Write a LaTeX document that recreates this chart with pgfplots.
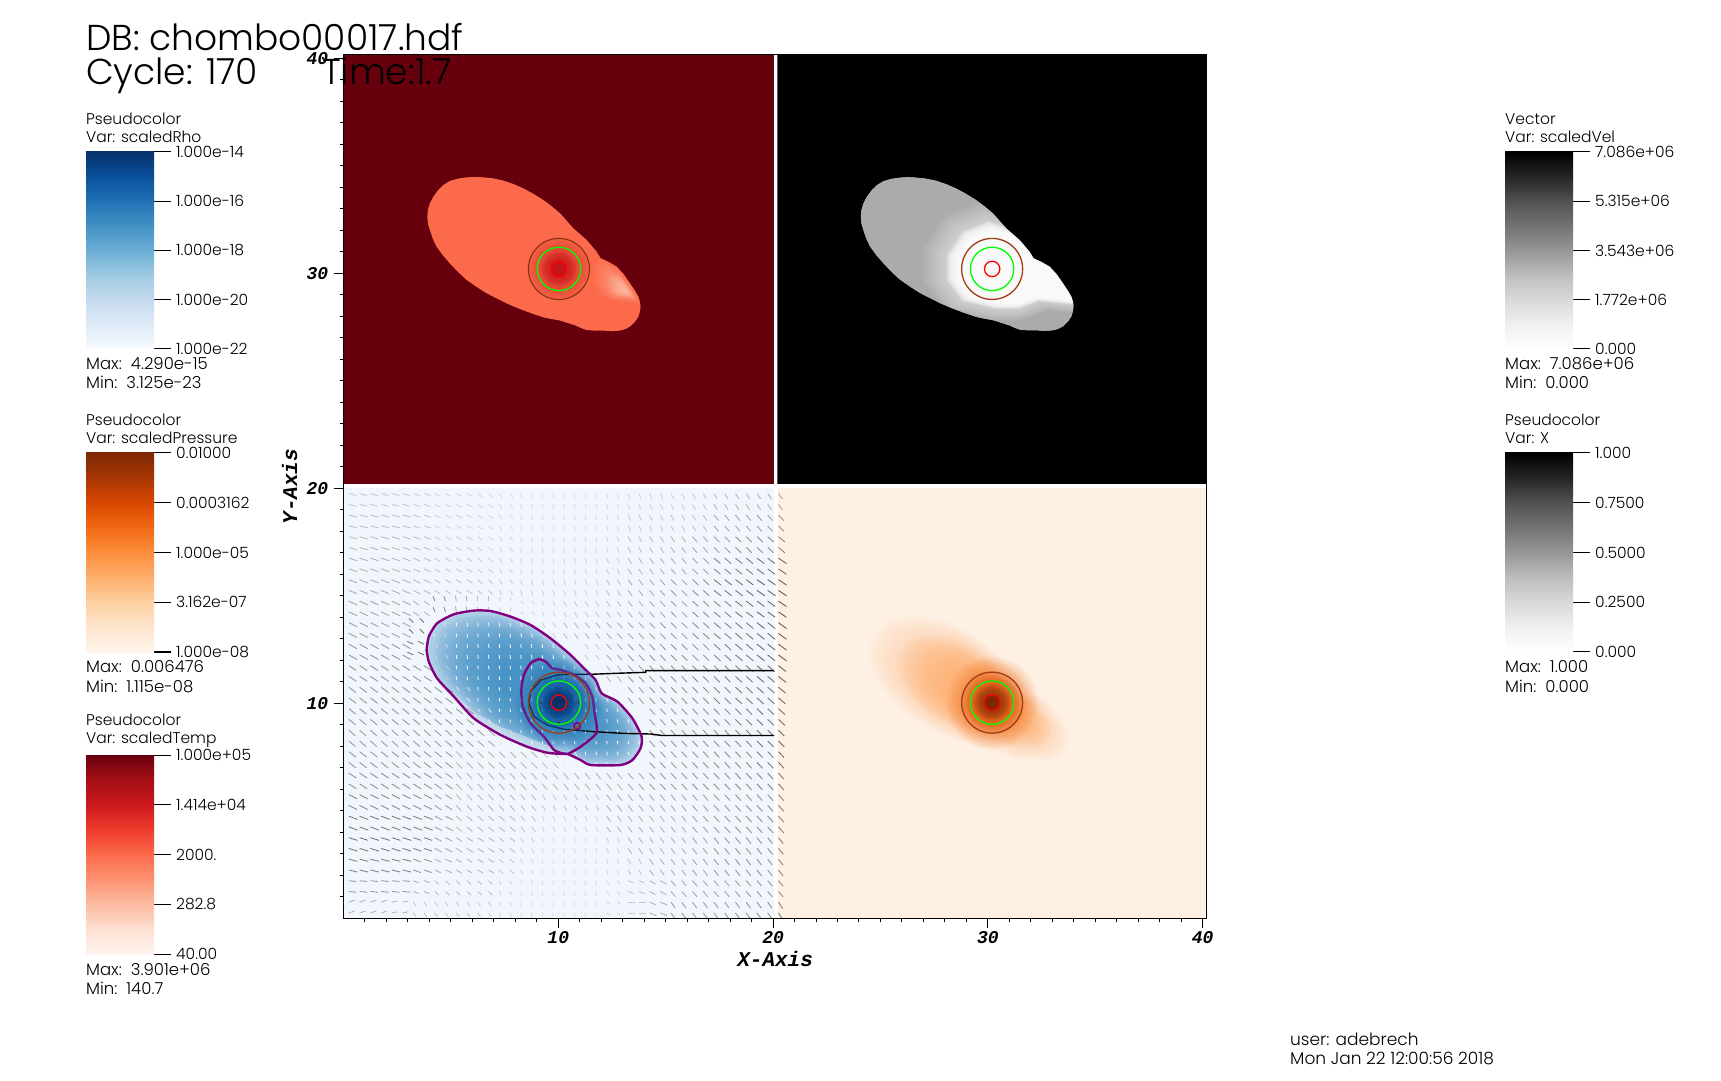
\documentclass[border=0pt]{standalone}
\usepackage{fontspec}
\usepackage{pgfplots}
\usepackage{pgfplotstable}
\pgfplotsset{compat=1.18}
\setmainfont{Poppins Light}
\newfontfamily\monobi{Liberation Mono}
\newcommand\tickf{\fontsize{18}{18}\selectfont\monobi\bfseries\itshape}
\newcommand\labf{\fontsize{21}{21}\selectfont\monobi\bfseries\itshape}
\newcommand\smf{\fontsize{16.5}{18}\selectfont}
\newcommand\hdf{\fontsize{15.5}{18}\selectfont}
\newcommand\ftf{\fontsize{17}{18}\selectfont}
\newcommand\bigf{\fontsize{36}{38}\selectfont}
\definecolor{b0}{HTML}{F7FBFF}\definecolor{b1}{HTML}{DEEBF7}\definecolor{b2}{HTML}{C6DBEF}\definecolor{b3}{HTML}{9ECAE1}\definecolor{b4}{HTML}{6BAED6}\definecolor{b5}{HTML}{4292C6}\definecolor{b6}{HTML}{2171B5}\definecolor{b7}{HTML}{08519C}\definecolor{b8}{HTML}{08306B}
\definecolor{o0}{HTML}{FFF5EB}\definecolor{o1}{HTML}{FEE6CE}\definecolor{o2}{HTML}{FDD0A2}\definecolor{o3}{HTML}{FDAE6B}\definecolor{o4}{HTML}{FD8D3C}\definecolor{o5}{HTML}{F16913}\definecolor{o6}{HTML}{D94801}\definecolor{o7}{HTML}{A63603}\definecolor{o8}{HTML}{7F2704}
\definecolor{r0}{HTML}{FFF5F0}\definecolor{r1}{HTML}{FEE0D2}\definecolor{r2}{HTML}{FCBBA1}\definecolor{r3}{HTML}{FC9272}\definecolor{r4}{HTML}{FB6A4A}\definecolor{r5}{HTML}{EF3B2C}\definecolor{r6}{HTML}{CB181D}\definecolor{r7}{HTML}{A50F15}\definecolor{r8}{HTML}{67000D}
\definecolor{g0}{HTML}{FFFFFF}\definecolor{g1}{HTML}{F0F0F0}\definecolor{g2}{HTML}{D9D9D9}\definecolor{g3}{HTML}{BDBDBD}\definecolor{g4}{HTML}{969696}\definecolor{g5}{HTML}{737373}\definecolor{g6}{HTML}{525252}\definecolor{g7}{HTML}{252525}\definecolor{g8}{HTML}{000000}
\definecolor{purp}{HTML}{800080}\definecolor{brn}{HTML}{A03C14}
\definecolor{bgb}{HTML}{F1F6FC}\definecolor{bgo}{HTML}{FEF0E3}

% body outline, offsets from the density centre
\pgfplotstableread{
x y
-6.13 2.43
-6.10 2.74
-6.01 3.05
-5.84 3.37
-5.62 3.67
-5.37 3.91
-5.08 4.09
-4.71 4.20
-4.30 4.26
-3.91 4.28
-3.52 4.26
-3.05 4.21
-2.59 4.11
-2.12 3.95
-1.66 3.75
-1.20 3.50
-0.73 3.21
-0.33 2.91
0.05 2.59
0.36 2.24
0.67 1.89
0.98 1.62
1.29 1.35
1.52 1.08
1.75 0.81
1.94 0.50
2.31 0.33
2.69 0.11
3.02 -0.25
3.31 -0.67
3.52 -0.98
3.70 -1.29
3.77 -1.52
3.80 -1.75
3.77 -1.99
3.70 -2.22
3.53 -2.47
3.31 -2.68
3.08 -2.80
2.84 -2.87
2.45 -2.89
2.07 -2.87
1.68 -2.87
1.29 -2.84
1.06 -2.76
0.82 -2.65
0.43 -2.52
0.05 -2.40
-0.34 -2.33
-0.73 -2.25
-1.12 -2.12
-1.51 -1.98
-1.98 -1.80
-2.44 -1.60
-2.90 -1.37
-3.37 -1.13
-3.84 -0.83
-4.30 -0.51
-4.71 -0.13
-5.08 0.26
-5.41 0.64
-5.70 1.04
-5.88 1.42
-6.01 1.81
-6.10 2.12
-6.13 2.43
}\outlineT
% same outline with the rest of the panel (exterior mask)
\pgfplotstableread{
x y
-10 2.43
-6.13 2.43
-6.10 2.74
-6.01 3.05
-5.84 3.37
-5.62 3.67
-5.37 3.91
-5.08 4.09
-4.71 4.20
-4.30 4.26
-3.91 4.28
-3.52 4.26
-3.05 4.21
-2.59 4.11
-2.12 3.95
-1.66 3.75
-1.20 3.50
-0.73 3.21
-0.33 2.91
0.05 2.59
0.36 2.24
0.67 1.89
0.98 1.62
1.29 1.35
1.52 1.08
1.75 0.81
1.94 0.50
2.31 0.33
2.69 0.11
3.02 -0.25
3.31 -0.67
3.52 -0.98
3.70 -1.29
3.77 -1.52
3.80 -1.75
3.77 -1.99
3.70 -2.22
3.53 -2.47
3.31 -2.68
3.08 -2.80
2.84 -2.87
2.45 -2.89
2.07 -2.87
1.68 -2.87
1.29 -2.84
1.06 -2.76
0.82 -2.65
0.43 -2.52
0.05 -2.40
-0.34 -2.33
-0.73 -2.25
-1.12 -2.12
-1.51 -1.98
-1.98 -1.80
-2.44 -1.60
-2.90 -1.37
-3.37 -1.13
-3.84 -0.83
-4.30 -0.51
-4.71 -0.13
-5.08 0.26
-5.41 0.64
-5.70 1.04
-5.88 1.42
-6.01 1.81
-6.10 2.12
-6.13 2.43
-10 2.43
-10 -10
10 -10
10 10
-10 10
-10 2.43
}\maskT
% purple contour, outer
\pgfplotstableread{
x y
-6.16 2.45
-6.06 3.07
-5.67 3.69
-4.89 4.11
-3.96 4.28
-3.18 4.26
-2.25 4.00
-1.32 3.61
-0.39 2.99
0.54 2.22
1.16 1.60
1.71 1.05
1.99 0.43
2.72 0.05
3.42 -0.73
3.85 -1.58
3.80 -2.12
3.42 -2.67
2.87 -2.90
1.48 -2.90
1.01 -2.67
0.42 -2.39
0.23 -2.39
-0.54 -2.33
-1.48 -2.05
-2.72 -1.50
-3.96 -0.73
-4.89 0.28
-5.67 1.13
-6.06 1.91
-6.16 2.45
}\purpT
% purple contour, inner
\pgfplotstableread{
x y
0.42 -2.39
1.01 -2.05
1.75 -1.40
1.66 -0.50
1.55 0.28
1.24 0.90
0.70 1.29
0.08 1.52
-0.31 1.60
-0.62 1.91
-0.93 2.02
-1.32 1.83
-1.63 1.29
-1.75 0.59
-1.68 -0.19
-1.32 -0.96
-0.70 -1.58
-0.23 -2.20
0.16 -2.36
}\purpIT
% black streamlines
\pgfplotstableread{
x y
10.02 1.49
4.04 1.49
4.04 1.41
2.56 1.36
1.55 1.32
0.54 1.32
-0.08 1.29
-0.85 1.05
-1.32 0.51
-1.40 -0.03
-1.16 -0.65
-0.54 -1.04
0.23 -1.24
1.63 -1.35
3.03 -1.43
4.27 -1.46
4.81 -1.53
10.02 -1.53
}\lineT
% pale lower edge of the blue body
\pgfplotstableread{
x y
-5.67 1.13
-4.89 0.28
-3.96 -0.73
-2.72 -1.50
-1.48 -2.05
-0.54 -2.33
0.23 -2.39
-0.5 -2.0
-1.5 -1.6
-2.8 -1.1
-4 -0.4
-5 0.5
}\paleT
% bright part of the lobe, temperature panel
\pgfplotstableread{
x y
1.94 0.50
2.69 0.11
3.31 -0.67
3.70 -1.29
3.80 -1.60
3.2 -1.55
2.4 -1.45
1.9 -1.2
1.6 -0.6
1.6 0.2
}\lobeT
% white part, velocity panel
\pgfplotstableread{
x y
1.94 0.50
2.69 0.11
3.31 -0.67
3.70 -1.29
3.80 -1.5
3.0 -1.4
2.0 -1.3
1.2 -1.6
0.3 -1.6
-1.0 -1.3
-1.6 -0.5
-1.6 0.5
-1.0 1.4
0 1.8
1 1.5
}\whiteT
% velocity glyphs
\pgfplotstableread{
x y u v m
.5 19.5 .28 -.07 .22
1.5 19.5 .28 -.07 .22
2.5 19.5 .28 -.07 .22
3.5 19.5 .26 -.08 .2
4.5 19.5 .2 -.1 .18
5.5 19.5 .2 -.1 .18
6.5 19.5 .16 -.12 .17
7.5 19.5 .1 -.15 .15
8.5 19.5 .04 -.17 .14
9.5 19.5 .03 -.17 .14
10.5 19.5 .03 -.17 .14
11.5 19.5 .04 -.17 .14
12.5 19.5 .05 -.17 .15
13.5 19.5 .08 -.2 .18
14.5 19.5 .1 -.2 .2
15.5 19.5 .1 -.2 .2
16.5 19.5 .11 -.2 .22
17.5 19.5 .12 -.2 .28
18.5 19.5 .13 -.2 .3
19.5 19.5 .14 -.2 .32
20.5 19.5 .15 -.2 .35
.5 18.5 .3 -.07 .25
1.5 18.5 .3 -.07 .25
2.5 18.5 .3 -.07 .25
3.5 18.5 .27 -.08 .22
4.5 18.5 .22 -.1 .18
5.5 18.5 .22 -.1 .18
6.5 18.5 .17 -.12 .17
7.5 18.5 .1 -.15 .15
8.5 18.5 .03 -.18 .14
9.5 18.5 .03 -.18 .14
10.5 18.5 .03 -.18 .14
11.5 18.5 .03 -.18 .14
12.5 18.5 .05 -.18 .16
13.5 18.5 .1 -.2 .22
14.5 18.5 .1 -.2 .22
15.5 18.5 .11 -.2 .24
16.5 18.5 .13 -.2 .26
17.5 18.5 .17 -.2 .35
18.5 18.5 .17 -.2 .36
19.5 18.5 .18 -.2 .38
20.5 18.5 .2 -.2 .42
.5 17.5 .3 -.09 .28
1.5 17.5 .3 -.09 .28
2.5 17.5 .3 -.09 .28
3.5 17.5 .27 -.1 .25
4.5 17.5 .22 -.12 .2
5.5 17.5 .22 -.12 .2
6.5 17.5 .17 -.14 .18
7.5 17.5 .1 -.16 .16
8.5 17.5 .03 -.2 .15
9.5 17.5 .03 -.2 .15
10.5 17.5 .03 -.2 .15
11.5 17.5 .03 -.2 .15
12.5 17.5 .06 -.2 .18
13.5 17.5 .11 -.2 .25
14.5 17.5 .12 -.2 .27
15.5 17.5 .14 -.2 .3
16.5 17.5 .17 -.2 .34
17.5 17.5 .2 -.2 .42
18.5 17.5 .21 -.2 .44
19.5 17.5 .22 -.2 .46
20.5 17.5 .24 -.2 .5
.5 16.5 .3 -.1 .3
1.5 16.5 .3 -.1 .3
2.5 16.5 .3 -.1 .3
3.5 16.5 .26 -.11 .27
4.5 16.5 .2 -.12 .22
5.5 16.5 .2 -.12 .22
6.5 16.5 .16 -.14 .2
7.5 16.5 .1 -.17 .18
8.5 16.5 .04 -.2 .17
9.5 16.5 .04 -.2 .17
10.5 16.5 .04 -.2 .17
11.5 16.5 .05 -.2 .17
12.5 16.5 .08 -.2 .2
13.5 16.5 .13 -.2 .28
14.5 16.5 .15 -.2 .3
15.5 16.5 .17 -.2 .34
16.5 16.5 .2 -.2 .4
17.5 16.5 .24 -.2 .5
18.5 16.5 .25 -.2 .52
19.5 16.5 .27 -.2 .56
20.5 16.5 .3 -.2 .6
.5 15.5 .3 -.12 .32
1.5 15.5 .3 -.12 .32
2.5 15.5 .3 -.12 .32
3.5 15.5 .26 -.13 .29
4.5 15.5 .2 -.13 .24
5.5 15.5 .2 -.13 .24
6.5 15.5 .16 -.15 .22
7.5 15.5 .1 -.17 .2
8.5 15.5 .06 -.2 .2
9.5 15.5 .06 -.2 .2
10.5 15.5 .07 -.2 .2
11.5 15.5 .08 -.2 .21
12.5 15.5 .11 -.2 .25
13.5 15.5 .15 -.2 .32
14.5 15.5 .17 -.2 .35
15.5 15.5 .2 -.2 .4
16.5 15.5 .22 -.2 .45
17.5 15.5 .26 -.2 .55
18.5 15.5 .27 -.2 .58
19.5 15.5 .29 -.2 .62
20.5 15.5 .3 -.2 .65
.5 14.5 .3 -.14 .35
1.5 14.5 .3 -.14 .35
2.5 14.5 .3 -.14 .35
3.5 14.5 .2 -.14 .3
4.5 14.5 -.06 .18 .45
5.5 14.5 -.03 .2 .35
6.5 14.5 0 .2 .25
7.5 14.5 .05 .15 .18
8.5 14.5 .12 -.1 .15
9.5 14.5 .08 -.17 .17
10.5 14.5 .1 -.2 .2
11.5 14.5 .12 -.2 .22
12.5 14.5 .14 -.2 .25
13.5 14.5 .16 -.2 .3
14.5 14.5 .18 -.2 .35
15.5 14.5 .2 -.2 .4
16.5 14.5 .22 -.2 .45
17.5 14.5 .24 -.2 .5
18.5 14.5 .26 -.2 .55
19.5 14.5 .28 -.2 .6
20.5 14.5 .3 -.2 .65
.5 13.5 .3 -.15 .38
1.5 13.5 .3 -.15 .38
2.5 13.5 .3 -.15 .38
3.5 13.5 -.16 .16 .55
4.5 13.5 -.03 -.15 .12
5.5 13.5 .02 -.15 .05
6.5 13.5 .02 -.15 .05
7.5 13.5 .02 -.15 .05
8.5 13.5 .04 -.15 .06
9.5 13.5 .1 -.18 .2
10.5 13.5 .14 -.2 .28
11.5 13.5 .16 -.2 .3
12.5 13.5 .18 -.2 .32
13.5 13.5 .19 -.2 .35
14.5 13.5 .2 -.21 .38
15.5 13.5 .21 -.21 .42
16.5 13.5 .23 -.21 .46
17.5 13.5 .25 -.21 .5
18.5 13.5 .26 -.22 .54
19.5 13.5 .28 -.22 .6
20.5 13.5 .3 -.22 .65
.5 12.5 .3 -.17 .42
1.5 12.5 .3 -.17 .42
2.5 12.5 .3 -.17 .42
3.5 12.5 -.22 .1 .55
4.5 12.5 .1 -.14 .15
5.5 12.5 .02 -.15 .04
6.5 12.5 .02 -.15 .04
7.5 12.5 .02 -.15 .04
8.5 12.5 .02 -.15 .04
9.5 12.5 .02 -.15 .04
10.5 12.5 .02 -.15 .04
11.5 12.5 .12 -.18 .22
12.5 12.5 .18 -.2 .35
13.5 12.5 .2 -.22 .4
14.5 12.5 .2 -.22 .42
15.5 12.5 .21 -.22 .44
16.5 12.5 .22 -.22 .46
17.5 12.5 .24 -.22 .5
18.5 12.5 .26 -.22 .54
19.5 12.5 .28 -.22 .6
20.5 12.5 .3 -.22 .65
.5 11.5 .28 -.18 .42
1.5 11.5 .28 -.18 .42
2.5 11.5 .28 -.18 .42
3.5 11.5 .28 -.18 .42
4.5 11.5 .15 -.15 .2
5.5 11.5 .02 -.14 .03
6.5 11.5 .02 -.14 .03
7.5 11.5 .02 -.14 .03
8.5 11.5 .02 -.14 .03
9.5 11.5 .02 -.14 .03
10.5 11.5 .02 -.14 .03
11.5 11.5 .02 -.14 .03
12.5 11.5 .14 -.2 .3
13.5 11.5 .2 -.22 .4
14.5 11.5 .2 -.22 .42
15.5 11.5 .2 -.22 .44
16.5 11.5 .21 -.22 .46
17.5 11.5 .22 -.22 .48
18.5 11.5 .24 -.22 .52
19.5 11.5 .26 -.22 .58
20.5 11.5 .28 -.22 .62
.5 10.5 .27 -.2 .42
1.5 10.5 .27 -.2 .42
2.5 10.5 .27 -.2 .42
3.5 10.5 .27 -.2 .42
4.5 10.5 .27 -.2 .42
5.5 10.5 .12 -.14 .12
6.5 10.5 .02 -.13 .03
7.5 10.5 .02 -.13 .03
8.5 10.5 .02 -.13 .03
9.5 10.5 .02 -.13 .03
10.5 10.5 .02 -.13 .03
11.5 10.5 .02 -.13 .03
12.5 10.5 .06 -.17 .08
13.5 10.5 .18 -.22 .38
14.5 10.5 .2 -.22 .42
15.5 10.5 .2 -.22 .44
16.5 10.5 .21 -.22 .46
17.5 10.5 .22 -.22 .48
18.5 10.5 .24 -.22 .52
19.5 10.5 .25 -.22 .56
20.5 10.5 .26 -.22 .6
.5 9.5 .25 -.2 .42
1.5 9.5 .25 -.2 .42
2.5 9.5 .25 -.2 .42
3.5 9.5 .25 -.2 .42
4.5 9.5 .25 -.2 .42
5.5 9.5 .25 -.2 .4
6.5 9.5 .1 -.14 .1
7.5 9.5 .02 -.12 .03
8.5 9.5 .02 -.12 .03
9.5 9.5 .02 -.12 .03
10.5 9.5 .02 -.12 .03
11.5 9.5 .02 -.12 .03
12.5 9.5 .02 -.12 .03
13.5 9.5 .02 -.12 .03
14.5 9.5 .2 -.22 .4
15.5 9.5 .2 -.22 .42
16.5 9.5 .2 -.22 .44
17.5 9.5 .21 -.22 .46
18.5 9.5 .22 -.22 .5
19.5 9.5 .23 -.22 .54
20.5 9.5 .24 -.22 .58
.5 8.5 .24 -.21 .4
1.5 8.5 .24 -.21 .4
2.5 8.5 .24 -.21 .4
3.5 8.5 .24 -.21 .4
4.5 8.5 .24 -.21 .4
5.5 8.5 .24 -.21 .38
6.5 8.5 .24 -.21 .36
7.5 8.5 .1 -.15 .12
8.5 8.5 .02 -.12 .03
9.5 8.5 .02 -.12 .03
10.5 8.5 .02 -.12 .03
11.5 8.5 .02 -.12 .03
12.5 8.5 .02 -.12 .03
13.5 8.5 .02 -.12 .03
14.5 8.5 .2 -.22 .42
15.5 8.5 .2 -.22 .42
16.5 8.5 .2 -.22 .44
17.5 8.5 .2 -.22 .46
18.5 8.5 .21 -.22 .5
19.5 8.5 .22 -.22 .54
20.5 8.5 .22 -.22 .58
.5 7.5 .26 -.2 .42
1.5 7.5 .26 -.2 .42
2.5 7.5 .26 -.2 .42
3.5 7.5 .26 -.2 .42
4.5 7.5 .26 -.2 .4
5.5 7.5 .22 -.22 .3
6.5 7.5 .22 -.22 .3
7.5 7.5 .22 -.22 .3
8.5 7.5 .22 -.22 .28
9.5 7.5 .2 -.22 .25
10.5 7.5 .1 -.15 .08
11.5 7.5 .03 -.13 .05
12.5 7.5 .03 -.13 .05
13.5 7.5 .03 -.13 .05
14.5 7.5 .2 -.22 .42
15.5 7.5 .2 -.22 .42
16.5 7.5 .2 -.22 .44
17.5 7.5 .2 -.22 .46
18.5 7.5 .2 -.22 .48
19.5 7.5 .21 -.22 .52
20.5 7.5 .21 -.22 .56
.5 6.5 .28 -.18 .45
1.5 6.5 .28 -.18 .45
2.5 6.5 .28 -.18 .45
3.5 6.5 .28 -.18 .45
4.5 6.5 .26 -.19 .4
5.5 6.5 .2 -.22 .3
6.5 6.5 .2 -.22 .3
7.5 6.5 .2 -.22 .3
8.5 6.5 .2 -.22 .3
9.5 6.5 .19 -.22 .28
10.5 6.5 .18 -.22 .3
11.5 6.5 .18 -.22 .3
12.5 6.5 .18 -.22 .3
13.5 6.5 .19 -.22 .36
14.5 6.5 .2 -.22 .42
15.5 6.5 .2 -.22 .42
16.5 6.5 .2 -.22 .44
17.5 6.5 .2 -.22 .46
18.5 6.5 .2 -.22 .48
19.5 6.5 .2 -.22 .5
20.5 6.5 .2 -.22 .54
.5 5.5 .3 -.15 .5
1.5 5.5 .3 -.15 .5
2.5 5.5 .3 -.15 .5
3.5 5.5 .3 -.15 .48
4.5 5.5 .25 -.17 .38
5.5 5.5 .18 -.2 .28
6.5 5.5 .18 -.2 .28
7.5 5.5 .18 -.2 .28
8.5 5.5 .16 -.2 .26
9.5 5.5 .12 -.2 .22
10.5 5.5 .12 -.2 .22
11.5 5.5 .12 -.2 .22
12.5 5.5 .17 -.22 .33
13.5 5.5 .17 -.22 .33
14.5 5.5 .17 -.22 .33
15.5 5.5 .17 -.22 .35
16.5 5.5 .18 -.22 .38
17.5 5.5 .2 -.22 .42
18.5 5.5 .2 -.22 .44
19.5 5.5 .2 -.22 .46
20.5 5.5 .2 -.22 .5
.5 4.5 .32 -.12 .52
1.5 4.5 .32 -.12 .52
2.5 4.5 .32 -.12 .52
3.5 4.5 .32 -.12 .5
4.5 4.5 .27 -.14 .38
5.5 4.5 .2 -.17 .28
6.5 4.5 .2 -.17 .28
7.5 4.5 .2 -.17 .28
8.5 4.5 .15 -.18 .24
9.5 4.5 .08 -.18 .18
10.5 4.5 .08 -.18 .18
11.5 4.5 .08 -.18 .18
12.5 4.5 .15 -.2 .3
13.5 4.5 .15 -.2 .3
14.5 4.5 .15 -.2 .3
15.5 4.5 .16 -.2 .33
16.5 4.5 .18 -.21 .37
17.5 4.5 .2 -.22 .42
18.5 4.5 .2 -.22 .44
19.5 4.5 .2 -.22 .46
20.5 4.5 .2 -.22 .5
.5 3.5 .32 -.1 .55
1.5 3.5 .32 -.1 .55
2.5 3.5 .32 -.1 .55
3.5 3.5 .3 -.1 .5
4.5 3.5 .25 -.13 .36
5.5 3.5 .22 -.14 .3
6.5 3.5 .22 -.14 .3
7.5 3.5 .18 -.15 .26
8.5 3.5 .1 -.16 .2
9.5 3.5 .04 -.17 .15
10.5 3.5 .04 -.17 .15
11.5 3.5 .04 -.17 .15
12.5 3.5 .08 -.18 .2
13.5 3.5 .14 -.2 .3
14.5 3.5 .14 -.2 .3
15.5 3.5 .15 -.2 .32
16.5 3.5 .16 -.21 .36
17.5 3.5 .18 -.22 .42
18.5 3.5 .18 -.22 .44
19.5 3.5 .18 -.22 .46
20.5 3.5 .18 -.22 .5
.5 2.5 .32 -.08 .5
1.5 2.5 .32 -.08 .5
2.5 2.5 .32 -.08 .5
3.5 2.5 .28 -.1 .42
4.5 2.5 .23 -.11 .32
5.5 2.5 .2 -.12 .28
6.5 2.5 .2 -.12 .28
7.5 2.5 .15 -.14 .22
8.5 2.5 .07 -.15 .17
9.5 2.5 .02 -.16 .14
10.5 2.5 .02 -.16 .14
11.5 2.5 .02 -.16 .14
12.5 2.5 .05 -.17 .16
13.5 2.5 .1 -.18 .22
14.5 2.5 .15 -.2 .32
15.5 2.5 .15 -.2 .33
16.5 2.5 .16 -.21 .36
17.5 2.5 .17 -.22 .4
18.5 2.5 .17 -.22 .42
19.5 2.5 .17 -.22 .44
20.5 2.5 .17 -.22 .48
.5 1.5 .28 -.03 .4
1.5 1.5 .28 -.03 .4
2.5 1.5 .28 -.03 .4
3.5 1.5 .2 -.08 .3
4.5 1.5 .15 -.14 .25
5.5 1.5 .15 -.14 .25
6.5 1.5 .15 -.14 .25
7.5 1.5 .08 -.15 .18
8.5 1.5 .02 -.16 .14
9.5 1.5 .02 -.16 .14
10.5 1.5 .02 -.16 .14
11.5 1.5 .02 -.16 .14
12.5 1.5 .1 -.14 .18
13.5 1.5 .2 -.08 .25
14.5 1.5 .22 -.12 .3
15.5 1.5 .17 -.2 .35
16.5 1.5 .17 -.2 .35
17.5 1.5 .17 -.2 .37
18.5 1.5 .17 -.2 .4
19.5 1.5 .17 -.2 .42
20.5 1.5 .17 -.2 .46
.5 .5 .22 .07 .3
1.5 .5 .22 .07 .3
2.5 .5 .2 .04 .28
3.5 .5 .1 -.14 .22
4.5 .5 .1 -.14 .22
5.5 .5 .1 -.14 .22
6.5 .5 .1 -.14 .22
7.5 .5 .05 -.15 .17
8.5 .5 .01 -.15 .14
9.5 .5 .01 -.15 .14
10.5 .5 .01 -.15 .14
11.5 .5 .01 -.15 .14
12.5 .5 .12 -.08 .17
13.5 .5 .25 0 .22
14.5 .5 .25 -.1 .3
15.5 .5 .16 -.22 .38
16.5 .5 .16 -.22 .38
17.5 .5 .16 -.22 .4
18.5 .5 .16 -.22 .42
19.5 .5 .16 -.22 .45
20.5 .5 .16 -.24 .5
}\glyphT

% scaled copy of a table around an anchor, filled (with opacity #8)
\newcommand\blob[8]{\addplot[draw=none,fill=#6,fill opacity=#8] table[x expr={#1+#3+#5*(\thisrow{x}-(#3))},y expr={#2+#4+#5*(\thisrow{y}-(#4))}] {#7};}
\newcommand\tab[5]{\addplot[#3] table[x expr={#1+\thisrow{x}},y expr={#2+\thisrow{y}}] {#4}#5;}
\newcommand\disc[5]{\addplot[only marks,mark=*,mark size=#3,mark options={draw=none,fill=#4,fill opacity=#5,draw opacity=0,line width=0pt}] coordinates {(#1,#2)};}
\newcommand\ring[4]{\addplot[only marks,mark=o,mark size=#3,mark options={draw=#4,fill=none,line width=1.3pt}] coordinates {(#1,#2)};}
\newcommand\rings[2]{\ring{#1}{#2}{30.5}{brn}\ring{#1}{#2}{21.7}{green}\ring{#1}{#2}{7.7}{red}}
\newcommand\rectp[5]{\addplot[draw=none,fill=#5] coordinates {(#1,#2)(#3,#2)(#3,#4)(#1,#4)};}
\newcommand\qv[2]{\addplot[line width=.85pt,quiver={u=\thisrow{u},v=\thisrow{v},colored,scale arrows=1.25},point meta=\thisrow{m},restrict x to domain=0:20.4] table[x expr={\thisrow{x}+(#1)},y expr={\thisrow{y}+(#2)}] {\glyphT};}
\newcommand\seg[4]{\addplot[draw=none,bottom color=#3,top color=#4] coordinates {(0,#1)(1,#1)(1,#2)(0,#2)};}
\newcommand\cmap[1]{\seg{0}{1.01}{#10}{#11}\seg{1}{2.01}{#11}{#12}\seg{2}{3.01}{#12}{#13}\seg{3}{4.01}{#13}{#14}\seg{4}{5.01}{#14}{#15}\seg{5}{6.01}{#15}{#16}\seg{6}{7.01}{#16}{#17}\seg{7}{8}{#17}{#18}}
% colour bar: left x, top y (px from top), height, colour family, tick labels
\newcommand\cbar[5]{\begin{axis}[at={(#1pt,{(1080-#2-#3)*1pt})},anchor=south west,scale only axis,width=68pt,height=#3pt,xmin=0,xmax=1,ymin=0,ymax=8,xtick=\empty,ytick={0,2,4,6,8},yticklabels={#5},axis line style={draw=none},ytick pos=right,yticklabel pos=right,tick align=outside,major tick length=17pt,tick style={black,line width=1pt},yticklabel style={font=\hdf,inner sep=0pt,xshift=5pt}]\cmap{#4}\end{axis}}
\newcommand\txt[3]{\node[anchor=base west,inner sep=0pt] at (#1,1080-#2) {#3};}

\begin{document}
\begin{tikzpicture}
\useasboundingbox (0,0) rectangle (1721pt,1080pt);
\begin{axis}[at={(343.5pt,161.7pt)},anchor=south west,scale only axis,width=863.2pt,height=863.3pt,
  xmin=0,xmax=40.19,ymin=0,ymax=40.15,axis on top,
  xtick={10,20,30,40},ytick={10,20,30,40},xticklabels={10,20,30,40},yticklabels={10,20,30,40},
  minor xtick={1,2,...,9,11,12,...,19,21,22,...,29,31,32,...,39},
  minor ytick={1,2,...,9,11,12,...,19,21,22,...,29,31,32,...,39},
  xtick pos=bottom,ytick pos=left,tick align=outside,major tick length=10pt,minor tick length=4pt,
  tick style={black,line width=1pt},axis line style={black,line width=1pt},
  xticklabel style={font=\tickf,inner sep=0pt,yshift=-3pt},yticklabel style={font=\tickf,inner sep=0pt,xshift=-5pt},
  xlabel={X-Axis},ylabel={Y-Axis},
  x label style={font=\labf,at={(axis description cs:0.5,0)},anchor=north,inner sep=0pt,yshift=-33pt},
  y label style={font=\labf,at={(axis description cs:0,0.5)},anchor=south,inner sep=0pt,yshift=46pt},
  colormap={gw}{gray(0cm)=(1);gray(1cm)=(0)},point meta min=0,point meta max=1,
]
% panels
\rectp{0}{20.2}{20.05}{40.2}{r8}
\rectp{20.25}{20.2}{40.2}{40.2}{black}
\rectp{0}{0}{20.05}{20.02}{bgb}
\rectp{20.25}{0}{40.2}{20.02}{bgo}
% --- temperature panel
\tab{10.03}{30.2}{draw=none,fill=r4}{\outlineT}{}
\pgfplotsinvokeforeach{1,.95,.9,.85,.8,.75,.7,.65,.6}{\blob{10.03}{30.2}{3.15}{-1.05}{#1}{r2}{\lobeT}{.05}}
\pgfplotsinvokeforeach{.56,.5,.44,.38,.32,.26,.2,.14,.08}{\blob{10.03}{30.2}{3.15}{-1.05}{#1}{r2!70!r1}{\lobeT}{.14}}
\pgfplotsinvokeforeach{32,30,28,26,24,22,20,18}{\disc{10.03}{30.2}{#1}{r6}{.07}}
\pgfplotsinvokeforeach{17,15,13,11,9}{\disc{10.03}{30.2}{#1}{r6}{.24}}
\disc{10.03}{30.2}{7.7}{r6!75!r7}{1}
\addplot[only marks,mark=o,mark size=30.5,mark options={draw=brn!80!black,fill=none,line width=1pt}] coordinates {(10.03,30.2)};
\ring{10.03}{30.2}{21.7}{green}\ring{10.03}{30.2}{7.7}{red}
% --- velocity panel
\tab{30.2}{30.2}{draw=none,fill=black!33}{\outlineT}{}
\pgfplotsinvokeforeach{1.62,1.58,1.54,1.5,1.46,1.42,1.38,1.34,1.3,1.26,1.22}{\blob{30.2}{30.2}{1}{-.3}{#1}{white}{\whiteT}{.055}}
\pgfplotsinvokeforeach{1.2,1.18,1.16,1.14,1.12,1.1,1.08,1.06,1.04,1.02,1}{\blob{30.2}{30.2}{1}{-.3}{#1}{white}{\whiteT}{.2}}
\tab{30.2}{30.2}{draw=none,fill=black}{\maskT}{}
\rings{30.2}{30.2}
% --- pressure panel
\pgfplotsinvokeforeach{.94,.91,.88,.85,.82,.79,.76}{\blob{30.2}{10.03}{0}{0}{#1}{o3}{\outlineT}{.04}}
\pgfplotsinvokeforeach{.73,.7,.67,.64,.61,.58,.55,.52,.49,.46,.43,.4,.37}{\blob{30.2}{10.03}{0}{0}{#1}{o3}{\outlineT}{.11}}
\pgfplotsinvokeforeach{46,44,42,40,38,36,34,32}{\disc{30.2}{10.03}{#1}{o5}{.06}}
\pgfplotsinvokeforeach{30,27.5,25,22.5,20}{\disc{30.2}{10.03}{#1}{o6}{.18}}
\pgfplotsinvokeforeach{18,16,14,12,10,8}{\disc{30.2}{10.03}{#1}{o8}{.2}}
\disc{30.2}{10.03}{7.7}{o8}{1}
\rings{30.2}{10.03}
% --- density panel
\tab{10.03}{10.03}{draw=none,fill=b2!70!b3}{\purpT}{}
\pgfplotsinvokeforeach{.98,.95,.92,.89,.86,.83,.8,.77,.74,.71,.68,.65,.62,.59,.56,.53,.5,.47,.44,.41}{\blob{10.03}{10.03}{0}{0}{#1}{b5}{\purpT}{.12}}
\tab{10.03}{10.03}{draw=none,fill=b1,fill opacity=.55}{\paleT}{}
\pgfplotsinvokeforeach{44,42,40,38,36,34,32,30}{\disc{10.03}{10.03}{#1}{b6}{.08}}
\pgfplotsinvokeforeach{28,26,24,22,20,18,16,14,12,10,8}{\disc{10.03}{10.03}{#1}{b7}{.14}}
\pgfplotsinvokeforeach{16,14,12,10,8}{\disc{10.03}{10.03}{#1}{b8}{.2}}
\disc{10.03}{10.03}{7.7}{b8}{1}
% glyphs (over both lower panels)
\qv{-.25}{-.25}\qv{.25}{-.25}\qv{-.25}{.25}\qv{.25}{.25}
\addplot[only marks,mark=*,mark size=.9,mark options={draw=none,fill=white}] coordinates {(10.03,10.48)(9.66,10.03)(10.47,10.03)(10.03,9.1)(9.7,9.1)(10.4,9.1)(9.2,10.03)(10.9,10.03)};
\tab{10.03}{10.03}{black,line width=1.4pt}{\lineT}{}
\tab{10.03}{10.03}{purp,line width=2.4pt,smooth,tension=.4}{\purpT}{}
\tab{10.03}{10.03}{purp,line width=2.4pt,smooth,tension=.4}{\purpIT}{--cycle}
\addplot[only marks,mark=o,mark size=3.3,mark options={draw=purp,fill=none,line width=1.6pt}] coordinates {(10.88,8.94)};
\rings{10.03}{10.03}
\end{axis}
% colour bars
\cbar{86}{152}{197}{b}{1.000e-22,1.000e-20,1.000e-18,1.000e-16,1.000e-14}
\cbar{86}{453}{199}{o}{1.000e-08,3.162e-07,1.000e-05,0.0003162,0.01000}
\cbar{86}{755}{199}{r}{40.00,282.8,2000.,1.414e+04,1.000e+05}
\cbar{1505}{152}{197}{g}{0.000,1.772e+06,3.543e+06,5.315e+06,7.086e+06}
\cbar{1505}{453}{199}{g}{0.000,0.2500,0.5000,0.7500,1.000}
\begin{scope}[x=1pt,y=1pt]
\txt{86}{51}{\bigf DB: chombo00017.hdf}
\txt{86}{85}{\bigf Cycle: 170}
\txt{322}{85}{\bigf Time:1.7}
\txt{86}{125}{\hdf Pseudocolor}
\txt{86}{143}{\hdf Var: scaledRho}
\txt{86}{370}{\smf Max:\ \ 4.290e-15}
\txt{86}{389}{\smf Min:\ \ 3.125e-23}
\txt{86}{425.5}{\hdf Pseudocolor}
\txt{86}{443.5}{\hdf Var: scaledPressure}
\txt{86}{673}{\smf Max:\ \ 0.006476}
\txt{86}{692}{\smf Min:\ \ 1.115e-08}
\txt{86}{725}{\hdf Pseudocolor}
\txt{86}{743}{\hdf Var: scaledTemp}
\txt{86}{975}{\smf Max:\ \ 3.901e+06}
\txt{86}{994}{\smf Min:\ \ 140.7}
\txt{1505}{125}{\hdf Vector}
\txt{1505}{143}{\hdf Var: scaledVel}
\txt{1505}{370}{\smf Max:\ \ 7.086e+06}
\txt{1505}{389}{\smf Min:\ \ 0.000}
\txt{1505}{425.5}{\hdf Pseudocolor}
\txt{1505}{443.5}{\hdf Var: X}
\txt{1505}{673}{\smf Max:\ \ 1.000}
\txt{1505}{692}{\smf Min:\ \ 0.000}
\txt{1290}{1045}{\ftf user: adebrech}
\txt{1290}{1064}{\ftf Mon Jan 22 12:00:56 2018}
\end{scope}
\end{tikzpicture}
\end{document}
